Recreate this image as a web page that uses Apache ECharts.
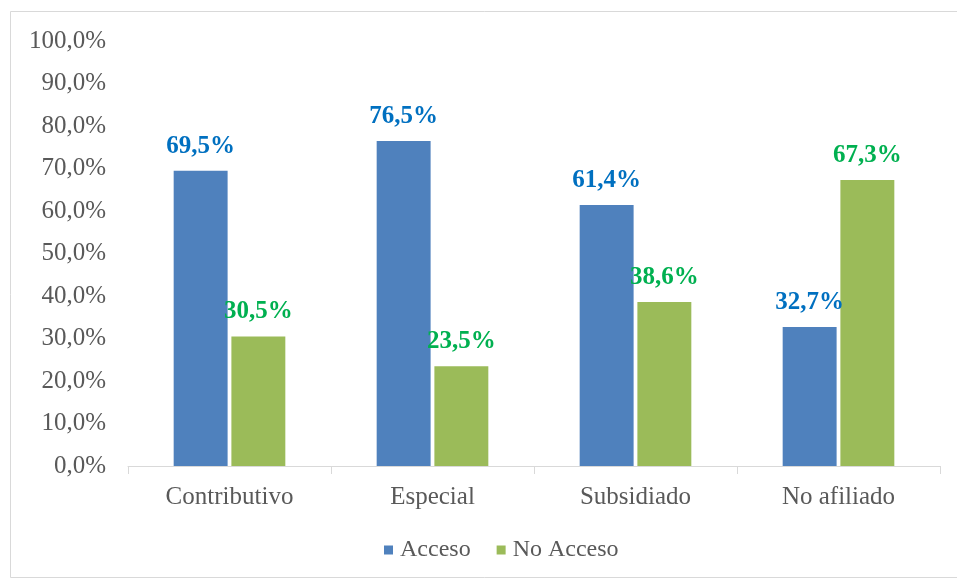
<!DOCTYPE html>
<html>
<head>
<meta charset="utf-8">
<script src="https://cdn.jsdelivr.net/npm/echarts@6/dist/echarts.min.js"></script>
<style>
  html, body { margin: 0; padding: 0; background: #ffffff; }
  #chart { width: 957px; height: 580px; }
</style>
</head>
<body>
<div id="chart"></div>
<script>
// Régimen de afiliación y acceso
const categories = ['Contributivo', 'Especial', 'Subsidiado', 'No afiliado'];
const acceso = [69.5, 76.5, 61.4, 32.7];
const noAcceso = [30.5, 23.5, 38.6, 67.3];
const seriesNames = ['Acceso', 'No Acceso'];

const FONT = '"Liberation Serif", serif';
const fmt = v => v.toFixed(1).replace('.', ',') + '%';

const chart = echarts.init(document.getElementById('chart'));
chart.setOption({
  animation: false,
  backgroundColor: '#ffffff',
  textStyle: { fontFamily: FONT },
  graphic: [{
    type: 'rect',
    shape: { x: 10.5, y: 11.5, width: 960, height: 566 },
    style: { fill: 'none', stroke: '#d9d9d9', lineWidth: 1 },
    silent: true
  }],
  grid: { left: 128, right: 17, top: 41, bottom: 114 },
  legend: {
    data: seriesNames,
    bottom: 13,
    left: 379,
    icon: 'rect',
    itemWidth: 9,
    itemHeight: 9,
    itemGap: 26,
    textStyle: { fontFamily: FONT, fontSize: 24, color: '#595959', padding: [0, 0, 0, 2] }
  },
  xAxis: {
    type: 'category',
    data: categories,
    axisLine: { lineStyle: { color: '#d9d9d9', width: 1 } },
    axisTick: { show: true, length: 8, lineStyle: { color: '#d9d9d9' } },
    axisLabel: { fontFamily: FONT, fontSize: 25, color: '#595959', margin: 19 }
  },
  yAxis: {
    type: 'value',
    min: 0,
    max: 100,
    interval: 10,
    axisLine: { show: false },
    axisTick: { show: false },
    splitLine: { show: false },
    axisLabel: { fontFamily: FONT, fontSize: 25, color: '#595959', margin: 22, formatter: fmt }
  },
  series: [
    {
      name: seriesNames[0],
      type: 'bar',
      data: acceso,
      barGap: '7%',
      barCategoryGap: '45%',
      itemStyle: { color: '#4f81bd' },
      label: {
        show: true, position: 'top', distance: 12,
        fontFamily: FONT, fontSize: 25, fontWeight: 'bold', color: '#0070c0',
        formatter: p => fmt(p.value)
      }
    },
    {
      name: seriesNames[1],
      type: 'bar',
      data: noAcceso,
      itemStyle: { color: '#9bbb59' },
      label: {
        show: true, position: 'top', distance: 12,
        fontFamily: FONT, fontSize: 25, fontWeight: 'bold', color: '#00b050',
        formatter: p => fmt(p.value)
      }
    }
  ]
});
</script>
</body>
</html>
